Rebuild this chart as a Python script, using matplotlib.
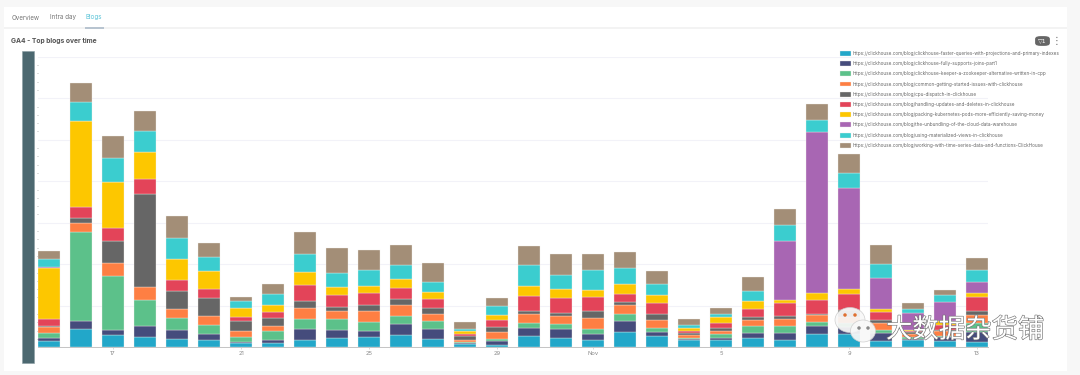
import matplotlib
matplotlib.use("Agg")
import matplotlib.pyplot as plt
import matplotlib.patheffects as pe
from matplotlib.patches import Rectangle, FancyBboxPatch, Ellipse
import numpy as np

W, H = 1080, 375
days = ["15","16","17","18","19","20","21","22","23","24","25","26","27","28","29","30","31",
        "Nov","2","3","4","5","6","7","8","9","10","11","12","13"]
tick_labels = ["17","21","25","29","Nov","5","9","13"]

faster_queries = [18,55,37,31,25,22,13,13,22,27,31,38,25,10,7,33,28,22,47,35,21,21,28,23,39,39,20,22,20,16]
joins_part1    = [11,24,14,33,26,19,3,8,34,26,18,32,29,3,12,25,26,19,32,10,5,8,16,21,24,21,24,4,10,29]
keeper         = [15,269,164,78,37,26,15,27,28,31,26,24,26,4,6,15,16,14,21,12,3,10,21,21,14,12,8,4,3,27]
common_issues  = [17,25,38,40,26,27,18,15,35,24,35,33,21,5,21,27,23,34,27,26,8,9,18,21,21,20,22,11,15,24]
cpu_dispatch   = [3,16,68,279,55,53,30,24,21,14,16,19,18,13,15,10,11,21,10,18,5,11,7,8,3,20,8,5,4,12]
updates        = [21,34,38,46,34,28,11,20,47,35,36,34,26,6,22,43,45,42,24,32,8,13,26,38,41,48,25,4,15,43]
kubernetes     = [155,259,140,82,62,54,29,20,40,25,23,27,21,8,15,31,26,22,29,23,8,19,22,10,21,15,9,2,12,12]
unbundling     = [3,0,0,0,0,0,0,0,0,0,0,0,0,0,0,0,0,0,0,0,0,0,0,179,484,304,93,51,56,34]
mat_views      = [22,57,72,63,65,43,19,32,53,41,49,42,32,5,26,65,43,60,48,34,9,8,31,47,38,47,43,11,21,35]
time_series    = [26,58,64,60,64,43,12,31,67,75,59,59,55,23,23,56,62,48,49,39,17,18,43,49,49,56,55,20,16,37]

series = [faster_queries, joins_part1, keeper, common_issues, cpu_dispatch,
          updates, kubernetes, unbundling, mat_views, time_series]
labels = [
    "https://clickhouse.com/blog/clickhouse-faster-queries-with-projections-and-primary-indexes",
    "https://clickhouse.com/blog/clickhouse-fully-supports-joins-part1",
    "https://clickhouse.com/blog/clickhouse-keeper-a-zookeeper-alternative-written-in-cpp",
    "https://clickhouse.com/blog/common-getting-started-issues-with-clickhouse",
    "https://clickhouse.com/blog/cpu-dispatch-in-clickhouse",
    "https://clickhouse.com/blog/handling-updates-and-deletes-in-clickhouse",
    "https://clickhouse.com/blog/packing-kubernetes-pods-more-efficiently-saving-money",
    "https://clickhouse.com/blog/the-unbundling-of-the-cloud-data-warehouse",
    "https://clickhouse.com/blog/using-materialized-views-in-clickhouse",
    "https://clickhouse.com/blog/working-with-time-series-data-and-functions-ClickHouse",
]
colors = ["#22a7c9","#454c7c","#5cc18a","#fe7f43","#666666","#e34459","#fdc700","#a866b3","#3bcdcf","#a38e77"]

plt.rcParams['font.family'] = ['Inter', 'DejaVu Sans']
fig = plt.figure(figsize=(W/100, H/100), dpi=100, facecolor="#f7f7f7")

def fx(x): return x / W
def fy(y): return 1 - y / H

# page panel and header
fig.add_artist(Rectangle((fx(4), fy(371)), fx(1063), 364/H, transform=fig.transFigure, fc="white", ec="none", zorder=-5))
fig.add_artist(Rectangle((fx(4), fy(28.5)), fx(1063), 1/H, transform=fig.transFigure, fc="#f3f3f3", ec="none"))
fig.add_artist(Rectangle((fx(85), fy(29)), fx(19), 1.6/H, transform=fig.transFigure, fc="#b8c4d0", ec="none"))
fig.text(fx(12), fy(17.5), "Overview", fontsize=4.5, color="#777777", va="center")
fig.text(fx(50), fy(17.5), "Intra day", fontsize=4.5, color="#777777", va="center")
fig.text(fx(86), fy(17.5), "Blogs", fontsize=4.5, color="#5cc4d8", va="center")
fig.text(fx(11), fy(41), "GA4 - Top blogs over time", fontsize=4.85, color="#555555", va="center", fontweight="bold")

# filter badge and menu
fig.add_artist(FancyBboxPatch((fx(1036.5), fy(44.5)), fx(12), 7/H, boxstyle="round,pad=0,rounding_size=0.004",
                              transform=fig.transFigure, fc="#666666", ec="#666666", lw=2))
fig.text(fx(1042.5), fy(41), "▽1", fontsize=4.5, color="white", va="center", ha="center", family=["DejaVu Sans"])
fig.text(fx(1057), fy(41), "⋮", fontsize=7, color="#666666", va="center", ha="center", family=["DejaVu Sans"])

# chart
ax = fig.add_axes([fx(38), fy(347.3), fx(950), (347.3-56.7)/H])
x = np.arange(len(days))
bottom = np.zeros(len(days))
for vals, lab, col in zip(series, labels, colors):
    v = np.array(vals, dtype=float)
    ax.bar(x, v, 0.6875, bottom=bottom, color=col, edgecolor="#f3efe9", linewidth=0.25, label=lab, zorder=3)
    bottom += v

ax.set_xlim(-0.344, len(days) - 1 + 0.344)
ax.set_ylim(0, 875)
ax.set_yticks(np.arange(0, 876, 125))
ax.set_yticklabels([])
ax.yaxis.grid(True, color="#f2f2f8", linewidth=0.8, zorder=0)
ax.tick_params(axis="y", which="both", length=0)
for t in np.arange(0, 876, 25):
    if t % 125:
        ax.plot([-0.344 - 1/32*1.4, -0.344 - 1/32*0.4], [t, t], color="#c8c8c8", lw=0.5, clip_on=False)
ax.set_xticks([days.index(t) for t in tick_labels])
ax.set_xticklabels(tick_labels, fontsize=4.2, color="#888888")
ax.tick_params(axis="x", length=1.5, width=0.4, color="#bbbbbb", pad=1.5)
for s in ["top", "left", "right"]:
    ax.spines[s].set_visible(False)
ax.spines["bottom"].set_color("#c4c4c4")
ax.spines["bottom"].set_linewidth(0.7)
ax.patch.set_alpha(0)

# dark cover over the y axis labels
fig.add_artist(Rectangle((fx(22), fy(363)), fx(12), 312.5/H, transform=fig.transFigure, fc="#4c6870", ec="#8a9ca2", lw=0.4))

# legend
hs, ls = ax.get_legend_handles_labels()
leg = fig.legend(hs, ls, loc="upper left", bbox_to_anchor=(fx(840), fy(50.8)), bbox_transform=fig.transFigure,
                 frameon=False, fontsize=3.35, labelcolor="#666666", handlelength=2.37, handleheight=1.25,
                 handletextpad=0.43, labelspacing=1.12, borderpad=0, borderaxespad=0)

# watermark
for cx, cy, w, h in [(850, 320, 30, 25), (863, 331, 25, 22)]:
    fig.add_artist(Ellipse((fx(cx), fy(cy)), w/W, h/H, transform=fig.transFigure, fc="#f8f8f8", ec="#cccccc", lw=0.5, alpha=0.93))
for cx, cy, c in [(845, 315, "#e07030"), (855, 315, "#e07030"), (859, 328, "#888888"), (868, 328, "#888888")]:
    fig.add_artist(Ellipse((fx(cx), fy(cy)), 3.5/W, 3.5/H, transform=fig.transFigure, fc=c, ec="none"))
fig.text(fx(886), fy(330), "大数据杂货铺", fontsize=19, color="white", va="center", ha="left",
         family=["Noto Sans CJK SC", "DejaVu Sans"],
         path_effects=[pe.withStroke(linewidth=0.9, foreground="#777777")])

fig.savefig("out.png", dpi=100, facecolor=fig.get_facecolor())
